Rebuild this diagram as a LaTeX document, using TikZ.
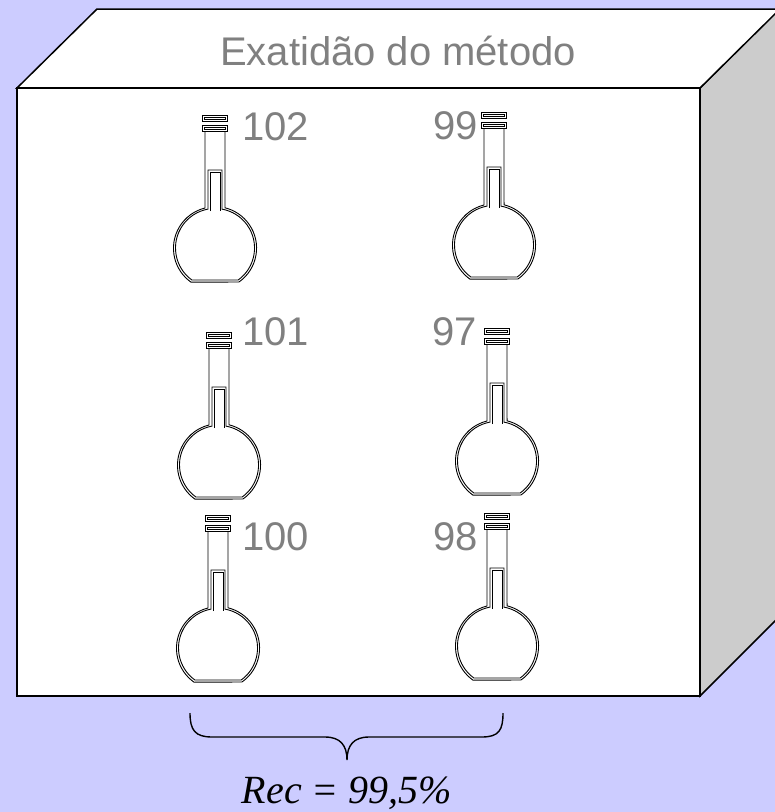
\documentclass[tikz,border=0pt]{standalone}
\usepackage{fontspec}
\setmainfont{Liberation Sans}
\newfontfamily\recfont{Liberation Serif}
\definecolor{bgc}{HTML}{CCCCFF}
\definecolor{sidegray}{HTML}{CCCCCC}
\definecolor{labelgray}{HTML}{808080}
\tikzset{
  boxedge/.style={draw=black,line width=1.5pt,line join=miter},
  wall/.style={draw=black,line width=0.9pt},
  value/.style={text=labelgray,font=\fontsize{40}{48}\selectfont,inner sep=0pt,anchor=base west}
}
% volumetric flask; #1,#2 = centre of the stopper top
\newcommand\drawflask[2]{%
  \begin{scope}[shift={(#1,#2)}]
    % stopper: two rings, each an outer and inner outline
    \draw[wall] (-12.5,0) -- (12.5,0) -- (12.5,6.5) -- (-12.5,6.5) -- cycle;
    \draw[wall] (-10.5,2) -- (10.5,2) -- (10.5,4.5) -- (-10.5,4.5) -- cycle;
    \draw[wall] (-12.5,10) -- (12.5,10) -- (12.5,16.5) -- (-12.5,16.5) -- cycle;
    \draw[wall] (-10.5,12) -- (10.5,12) -- (10.5,14.5) -- (-10.5,14.5) -- cycle;
    % outer wall of neck and bulb
    \draw[wall] (-10,16.5) -- (-10,93)
      arc[start angle=256.1,end angle=125.2,radius=41.5]
      -- (24,167)
      arc[start angle=54.8,end angle=-76.1,radius=41.5]
      -- (10,16.5);
    % liquid: column in the neck running into the inner wall of the bulb
    \draw[wall] (-7,55) -- (-7,94.1)
      arc[start angle=259.8,end angle=125.9,radius=39.5]
      -- (23.2,165)
      arc[start angle=54.1,end angle=-79.8,radius=39.5]
      -- (7,55) -- cycle;
    \draw[wall] (-5,96) -- (-5,57) -- (5,57) -- (5,96);
  \end{scope}}
\begin{document}
\begin{tikzpicture}[x=1pt,y=-1pt]
\useasboundingbox (0,0) rectangle (775,812);
\clip (0,0) rectangle (775,812);
\fill[bgc] (0,0) rectangle (775,812);

% box: side, top and front faces
\path[boxedge,fill=sidegray] (700,88) -- (780,8) -- (780,616) -- (700,696) -- cycle;
\path[boxedge,fill=white] (17,88) -- (97,9) -- (780,9) -- (700,88) -- cycle;
\path[boxedge,fill=white] (17,88) rectangle (700,696);

\node[text=labelgray,font=\fontsize{40}{48}\selectfont,inner sep=0pt,anchor=base] (title) at (398,65) {Exatidão do método};

% flasks
\drawflask{215}{115}
\drawflask{494}{112}
\drawflask{219}{332}
\drawflask{497}{328}
\drawflask{218}{515}
\drawflask{497}{513}

% results
\node[value] (v1) at (242,140) {102};
\node[value] (v2) at (433,139) {99};
\node[value] (v3) at (242,345) {101};
\node[value] (v4) at (432,345) {97};
\node[value] (v5) at (242,550) {100};
\node[value] (v6) at (433,550) {98};

% brace under the flasks
\coordinate (bl) at (190,713);
\coordinate (btip) at (347,760);
\coordinate (br) at (503,713);
\draw[line width=1.4pt] (bl) .. controls (190,730) and (195,737) .. (212,737)
  -- (325,737) .. controls (340,737) and (347,745) .. (btip)
  .. controls (347,745) and (354,737) .. (369,737)
  -- (482,737) .. controls (499,737) and (503,730) .. (br);

\node[font=\recfont\itshape\fontsize{40}{48}\selectfont,inner sep=0pt,anchor=base] (rec) at (347,803) {Rec = 99,5\%};
\end{tikzpicture}
\end{document}
